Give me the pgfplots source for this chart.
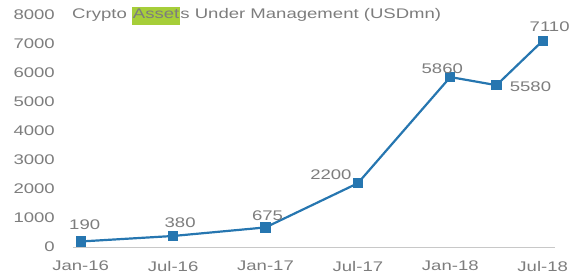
\documentclass[border=0pt]{standalone}
\usepackage{fontspec}
\setmainfont{Liberation Sans}[FakeStretch=1.33]
\usepackage{pgfplots}
\usepackage{pgfplotstable}
\pgfplotsset{compat=1.18}
\definecolor{lineblue}{RGB}{38,118,176}
\definecolor{txtgray}{RGB}{125,125,125}
\definecolor{axgray}{RGB}{200,200,200}
\definecolor{hl}{RGB}{166,206,57}
\pgfplotstableread{
x y dx dy
0 190 4 17
6 380 7 13
12 675 2 12
18 2200 -27 9
24 5860 -8 8
27 5580 34 -2
30 7110 7 14
}\datatable
\begin{document}
\begin{tikzpicture}
\path[use as bounding box] (0,0) rectangle (578bp,275bp);
\begin{axis}[
  at={(73bp,28bp)}, anchor=south west,
  scale only axis, width=482bp, height=232bp,
  xmin=-0.5, xmax=30.8, ymin=0, ymax=8000,
  axis line style={draw=none},
  major tick length=0pt,
  xtick={0,6,12,18,24,30},
  xticklabels={Jan-16,Jul-16,Jan-17,Jul-17,Jan-18,Jul-18},
  ytick={0,1000,...,8000},
  scaled y ticks=false,
  /pgf/number format/1000 sep={},
  /pgf/number format/assume math mode=true,
  tick label style={font=\fontsize{14}{16}\selectfont, text=txtgray},
  yticklabel style={inner sep=0pt, anchor=east, xshift=-18bp},
  xticklabel style={inner sep=0pt, anchor=north, yshift=-14bp},
  clip=false,
]
\draw[axgray, line width=1bp] (axis cs:-0.5,0) -- (axis cs:30.8,0);
\addplot[color=lineblue, line width=2.2bp, mark=square*, mark size=4bp,
  mark options={fill=lineblue, draw=lineblue},
  nodes near coords,
  visualization depends on={\thisrow{dx} \as \dx},
  visualization depends on={\thisrow{dy} \as \dy},
  every node near coord/.append style={anchor=center, inner sep=0pt,
     xshift=\dx bp, yshift=\dy bp, font=\fontsize{14}{16}\selectfont, text=txtgray,
     /pgf/number format/1000 sep={}, /pgf/number format/assume math mode=true},
] table[x=x, y=y] {\datatable};
\end{axis}
\node[anchor=base west, inner sep=0pt, text=txtgray, font=\fontsize{14}{16}\selectfont] at (72bp,256bp)
 {Crypto {\setlength{\fboxsep}{1bp}\colorbox{hl}{\strut Asset}}s Under Management (USDmn)};
\end{tikzpicture}
\end{document}
